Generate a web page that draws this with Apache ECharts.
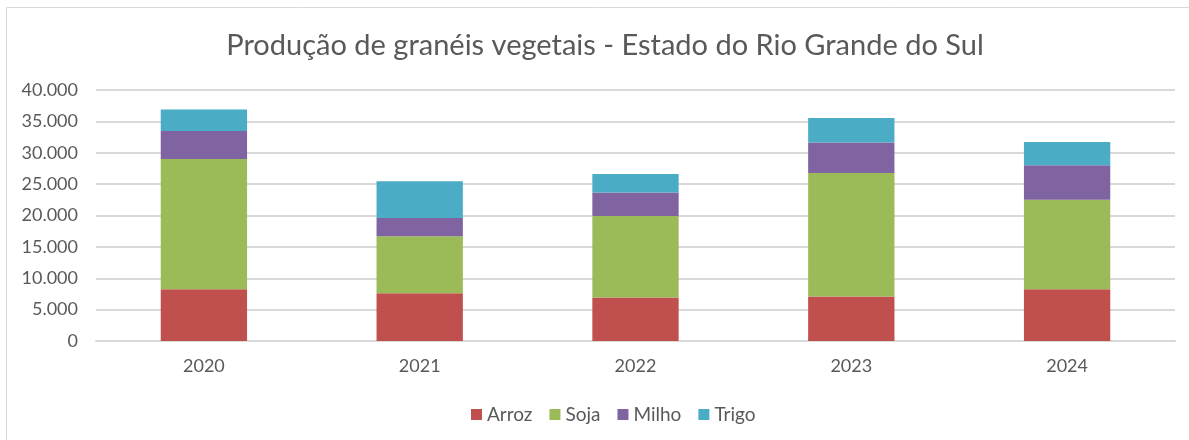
<!DOCTYPE html>
<html>
<head>
<meta charset="utf-8">
<script src="https://cdn.jsdelivr.net/npm/echarts@6/dist/echarts.min.js"></script>
<style>
  html, body { margin: 0; padding: 0; background: #fff; }
  #main { width: 1189px; height: 440px; }
</style>
</head>
<body>
<div id="main"></div>
<script>
// dados (mil toneladas)
var anos = ['2020', '2021', '2022', '2023', '2024'];
var arroz = [8250, 7620, 6930, 7090, 8260];
var soja = [20750, 9070, 13010, 19680, 14240];
var milho = [4480, 2930, 3740, 4850, 5500];
var trigo = [3410, 5820, 2930, 3900, 3730];
var nomes = ['Arroz', 'Soja', 'Milho', 'Trigo'];
var cores = ['#c0504d', '#9bbb59', '#8064a2', '#4bacc6'];

var myChart = echarts.init(document.getElementById('main'));

function serie(nome, dados) {
	return {
		name: nome,
		type: 'bar',
		stack: 'total',
		barWidth: '40%',
		data: dados
	};
}

option = {
	animation: false,
	color: cores,
	textStyle: {
		fontFamily: 'Lato'
	},
	graphic: [{
		type: 'rect',
		shape: { x: 6.5, y: 7.5, width: 1200, height: 500 },
		style: { fill: 'none', stroke: '#d9d9d9', lineWidth: 1 },
		silent: true
	}],
	title: {
		text: 'Produção de granéis vegetais - Estado do Rio Grande do Sul',
		left: 600,
		top: 26,
		textAlign: 'center',
		textStyle: {
			color: '#595959',
			fontSize: 29,
			fontWeight: 400,
			fontFamily: 'Lato'
		}
	},
	legend: {
		data: nomes,
		left: 466,
		top: 400,
		icon: 'rect',
		itemWidth: 11,
		itemHeight: 11,
		itemGap: 17,
		textStyle: {
			color: '#595959',
			fontSize: 19
		}
	},
	grid: {
		left: 96,
		right: 14,
		top: 90,
		bottom: 99,
		containLabel: false
	},
	xAxis: {
		type: 'category',
		data: anos,
		axisLine: { lineStyle: { color: '#d9d9d9', width: 2 } },
		axisTick: { show: false },
		axisLabel: { color: '#595959', fontSize: 18, margin: 16 }
	},
	yAxis: {
		type: 'value',
		min: 0,
		max: 40000,
		interval: 5000,
		axisLine: { show: false },
		axisTick: { show: false },
		axisLabel: {
			color: '#595959',
			fontSize: 18,
			margin: 18,
			formatter: function (v) {
				return v === 0 ? '0' : (v / 1000).toFixed(0) + '.000';
			}
		},
		splitLine: { lineStyle: { color: '#d9d9d9', width: 2 } }
	},
	series: [
		serie(nomes[0], arroz),
		serie(nomes[1], soja),
		serie(nomes[2], milho),
		serie(nomes[3], trigo)
	]
};

myChart.setOption(option);
</script>
</body>
</html>
